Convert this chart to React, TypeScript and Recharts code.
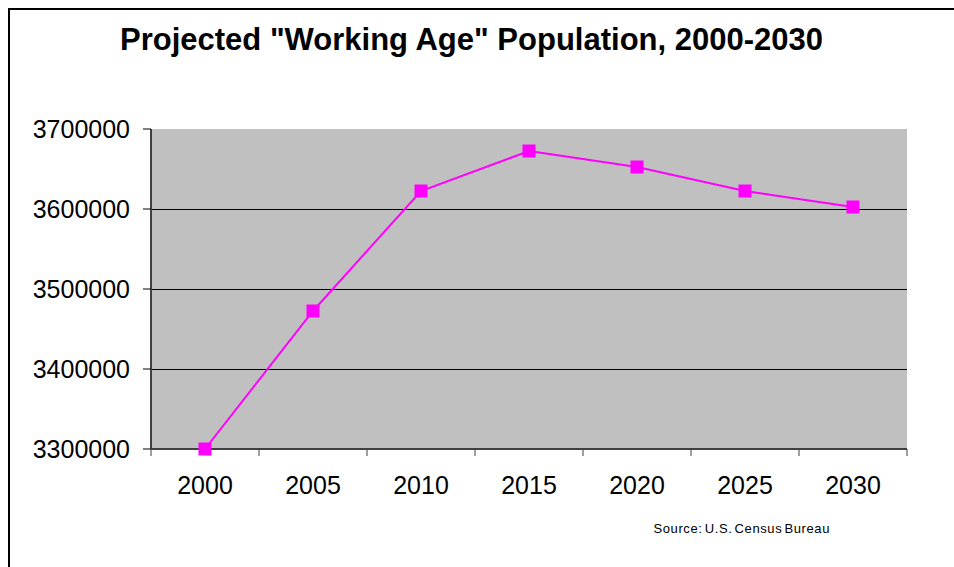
import { LineChart, Line, XAxis, YAxis, CartesianGrid } from "recharts";

const years = ["2000", "2005", "2010", "2015", "2020", "2025", "2030"];
const population = [3300000, 3472500, 3622500, 3672500, 3652500, 3622500, 3602500];
const yTicks = [3300000, 3400000, 3500000, 3600000, 3700000];
const gridValues = [3400000, 3500000, 3600000];

const data = years.map((year, i) => ({ year, population: population[i] }));

const FONT = '"Liberation Sans", Arial, sans-serif';
const PLOT_WIDTH = 756;
const HALF_BAND = PLOT_WIDTH / years.length / 2;

function YearTick(props: any) {
  const { x, y, payload, index } = props;
  const last = index === years.length - 1;
  return (
    <g>
      <line x1={x - HALF_BAND} y1={y} x2={x - HALF_BAND} y2={y + 7} stroke="#404040" />
      {last && <line x1={x + HALF_BAND} y1={y} x2={x + HALF_BAND} y2={y + 7} stroke="#404040" />}
      <text x={x} y={y + 45} textAnchor="middle" fontSize={25} fontFamily={FONT} fill="#000">
        {payload.value}
      </text>
    </g>
  );
}

function SquareDot(props: any) {
  const { cx, cy, index } = props;
  return <rect key={`sq-${index}`} x={cx - 6.5} y={cy - 6.5} width={13} height={13} fill="#FF00FF" />;
}

export default function App() {
  return (
    <div
      style={{
        position: "fixed",
        left: 8,
        top: 8,
        width: 944,
        height: 570,
        borderLeft: "2px solid #000",
        borderTop: "2px solid #000",
        background: "#fff",
        fontFamily: FONT,
      }}
    >
      <div
        style={{
          position: "absolute",
          left: 0,
          top: 14,
          width: 923,
          textAlign: "center",
          fontSize: 31,
          lineHeight: "31px",
          fontWeight: "bold",
          color: "#000",
        }}
      >
        Projected "Working Age" Population, 2000-2030
      </div>

      <LineChart
        width={944}
        height={557}
        data={data}
        margin={{ top: 119, right: 47, bottom: 58, left: 10 }}
      >
        <CartesianGrid
          horizontalValues={gridValues}
          vertical={false}
          stroke="#000"
          fill="#C0C0C0"
          fillOpacity={1}
          shapeRendering="crispEdges"
        />
        <XAxis
          dataKey="year"
          interval={0}
          padding={{ left: HALF_BAND, right: HALF_BAND }}
          height={60}
          tickSize={0}
          tickMargin={0}
          tickLine={false}
          axisLine={{ stroke: "#404040", strokeWidth: 2 }}
          tick={<YearTick />}
        />
        <XAxis
          xAxisId="top"
          dataKey="year"
          orientation="top"
          height={0}
          tick={false}
          tickLine={false}
          axisLine={{ stroke: "#808080", strokeWidth: 3 }}
        />
        <YAxis
          domain={[3300000, 3700000]}
          ticks={yTicks}
          width={131}
          tickSize={8}
          tickMargin={13}
          interval={0}
          tick={{ fontSize: 25, fill: "#000", fontFamily: FONT }}
          tickLine={{ stroke: "#000" }}
          axisLine={{ stroke: "#404040", strokeWidth: 2 }}
        />
        <YAxis
          yAxisId="right"
          orientation="right"
          domain={[3300000, 3700000]}
          width={0}
          tick={false}
          tickLine={false}
          axisLine={{ stroke: "#808080", strokeWidth: 3 }}
        />
        <Line
          dataKey="population"
          stroke="#FF00FF"
          strokeWidth={2}
          dot={SquareDot}
          activeDot={false}
          isAnimationActive={false}
        />
      </LineChart>

      <div
        style={{
          position: "absolute",
          right: 124,
          top: 512,
          fontSize: 13,
          lineHeight: "13px",
          letterSpacing: 0.6,
          wordSpacing: -2,
          color: "#000",
        }}
      >
        Source: U.S. Census Bureau
      </div>
    </div>
  );
}
